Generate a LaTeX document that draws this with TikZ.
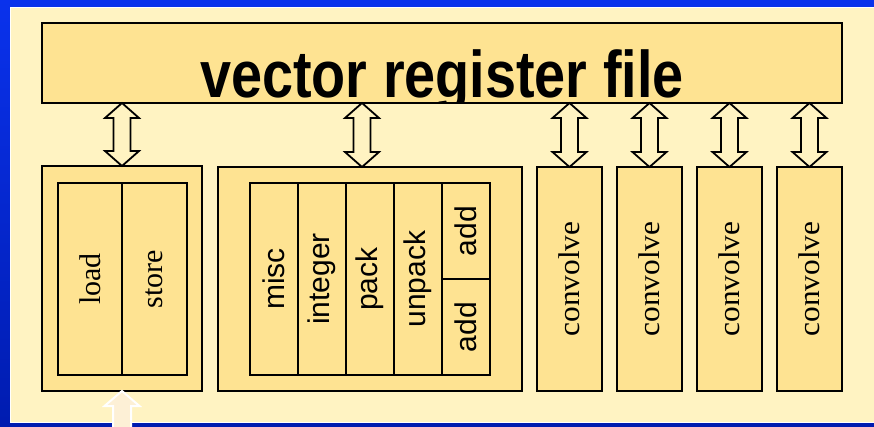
\documentclass[tikz,border=0pt]{standalone}
\usepackage{fontspec}
\setmainfont{Liberation Serif}
\newfontfamily\arialfont{Liberation Sans}
\usetikzlibrary{positioning}
\usetikzlibrary{calc}
\newcommand{\vlabel}[2]{\rotatebox{90}{\scalebox{#1}[1]{#2}}}
\newcommand{\busarrow}[2]{\draw[busline] (#1) -- ($(#1)+(17,15)$) -- ($(#1)+(8.5,15)$) -- ($(#2)+(8.5,-15)$) -- ($(#2)+(17,-15)$) -- (#2) -- ($(#2)+(-17,-15)$) -- ($(#2)+(-8.5,-15)$) -- ($(#1)+(-8.5,15)$) -- ($(#1)+(-17,15)$) -- cycle;}

\begin{document}
\begin{tikzpicture}[x=1pt,y=-1pt,line join=miter,
unit/.style={draw,line width=1.6pt,fill=boxgold,inner sep=0pt,outer sep=0pt},
busline/.style={draw,line width=1.8pt,fill=panelcream},
serifv/.style={font=\fontsize{30}{32}\selectfont},
lsv/.style={font=\fontsize{30}{32}\selectfont},
sansv/.style={font=\arialfont\fontsize{30}{32}\selectfont},
col/.style={unit,minimum width=48pt,minimum height=192pt,sansv},
cvbox/.style={unit,minimum width=64.5pt,minimum height=224pt,serifv}]
\definecolor{boxgold}{RGB}{254,227,146}
\definecolor{panelcream}{RGB}{255,243,194}
\definecolor{framebluetop}{RGB}{10,50,236}
\definecolor{frameblueb}{RGB}{0,28,176}
\definecolor{fadedcream}{RGB}{253,240,214}
\useasboundingbox (0,0) rectangle (874,426);
\shade[top color=framebluetop,bottom color=frameblueb] (0,0) rectangle (874,426);
\draw[line width=1.5pt,color=white,fill=panelcream] (10.5,7.5) rectangle (875,422.5);
\node[unit,minimum width=800pt,minimum height=80pt,path picture={\node[anchor=base,font=\arialfont\bfseries\fontsize{66}{70}\selectfont] (rftext) at ($(path picture bounding box.center)+(0,34)$) {\scalebox{0.845}[1]{vector register file}};}] (rf) at (442,63) {};
\node[unit,minimum width=160pt,minimum height=225pt] (ls) at (122,278.5) {};
\node[unit,minimum width=64pt,minimum height=192pt,lsv] (load) at (90,279) {\vlabel{1}{load}};
\node[unit,minimum width=65pt,minimum height=192pt,lsv] (store) [right=0pt of load] {\vlabel{1}{store}};
\node[unit,minimum width=304pt,minimum height=224pt] (alu) at (370,279) {};
\node[col] (misc) at (274,279) {\vlabel{1}{misc}};
\node[col] (integer) [right=0pt of misc] {\vlabel{1}{integer}};
\node[col] (pack) [right=0pt of integer] {\vlabel{1}{pack}};
\node[col] (unpack) [right=0pt of pack] {\vlabel{1}{unpack}};
\node[col,minimum height=96pt,anchor=north west] (addtop) at (unpack.north east) {\vlabel{1}{add}};
\node[col,minimum height=96pt] (addbot) [below=0pt of addtop] {\vlabel{1}{add}};
\node[cvbox] (cv1) at (569.5,279) {\vlabel{1.045}{convolve}};
\node[cvbox] (cv2) [right=15.5pt of cv1] {\vlabel{1.045}{convolve}};
\node[cvbox] (cv3) [right=15.5pt of cv2] {\vlabel{1.045}{convolve}};
\node[cvbox] (cv4) [right=15.5pt of cv3] {\vlabel{1.045}{convolve}};
\coordinate (aluport) at ($(alu.north)+(-8,0)$);
\coordinate (dataport) at (122,430);
\busarrow{rf.south -| ls.north}{ls.north}
\busarrow{rf.south -| aluport}{aluport}
\busarrow{rf.south -| cv1.north}{cv1.north}
\busarrow{rf.south -| cv2.north}{cv2.north}
\busarrow{rf.south -| cv3.north}{cv3.north}
\busarrow{rf.south -| cv4.north}{cv4.north}
\draw[line width=2pt,color=white,fill=fadedcream] (ls.south) -- ($(ls.south)+(17.5,15)$) -- ($(ls.south)+(9,15)$) -- ($(dataport)+(9,0)$) -- ($(dataport)+(-9,0)$) -- ($(ls.south)+(-9,15)$) -- ($(ls.south)+(-17.5,15)$) -- cycle;
\end{tikzpicture}
\end{document}
